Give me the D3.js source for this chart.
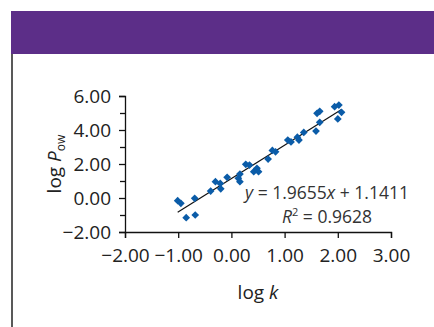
<!DOCTYPE html>
<html><head><meta charset="utf-8"></head>
<body style="margin:0;background:#fff">
<script src="https://d3js.org/d3.v7.min.js"></script>
<svg id="chart" width="434" height="327"></svg>
<script>
// data
const logK = [-1.01, -0.95, -0.85, -0.69, -0.68, -0.39, -0.30, -0.21, -0.20, -0.08,
              0.13, 0.16, 0.16, 0.27, 0.34, 0.42, 0.48, 0.51, 0.69, 0.77,
              0.83, 1.06, 1.12, 1.24, 1.27, 1.36, 1.59, 1.66, 1.61, 1.66,
              1.94, 2.02, 2.07, 2.00];
const logPow = [-0.16, -0.31, -1.16, -0.02, -1.00, 0.41, 0.96, 0.86, 0.54, 1.22,
                1.16, 1.41, 0.96, 1.98, 1.94, 1.55, 1.75, 1.55, 2.29, 2.80,
                2.72, 3.41, 3.30, 3.58, 3.41, 3.86, 3.94, 4.45, 4.98, 5.10,
                5.37, 5.47, 5.04, 4.65];
const xTicks = [-2, -1, 0, 1, 2, 3];
const yTicks = [-2, 0, 2, 4, 6];
const slope = 1.9655, intercept = 1.1411, r2 = "0.9628";

const font = "'Open Sans', sans-serif";
const svg = d3.select("#chart");
const fmt = d => d3.format(".2f")(d).replace("-", "\u2212");

// header band + left rule
svg.append("rect").attr("x", 11).attr("y", 11).attr("width", 423).attr("height", 43).attr("fill", "#5c2e88");
svg.append("line").attr("x1", 12).attr("x2", 12).attr("y1", 54).attr("y2", 327)
    .attr("stroke", "#222").attr("stroke-width", 1.5);

const x = d3.scaleLinear().domain([-2, 3]).range([125, 391]);
const y = d3.scaleLinear().domain([-2, 6]).range([232, 96]);

// y axis
svg.append("g").attr("transform", "translate(125,0)")
    .call(d3.axisLeft(y).tickValues(yTicks).tickSize(6).tickPadding(8).tickFormat(fmt));
svg.append("g").attr("transform", "translate(125,0)")
    .call(d3.axisLeft(y).tickValues([-1, 1, 3, 5]).tickSize(5).tickFormat(""))
    .select(".domain").remove();

// x axis
svg.append("g").attr("transform", "translate(0,232)")
    .call(d3.axisBottom(x).tickValues(xTicks).tickSize(6).tickPadding(11).tickFormat(fmt));

svg.selectAll(".domain").attr("stroke", "#111").attr("stroke-width", 1.3);
svg.selectAll(".tick line").attr("stroke", "#111").attr("stroke-width", 1.3);
svg.selectAll(".tick text").attr("font-family", font).attr("font-size", 19).attr("fill", "#222");

// trendline
const xr = d3.extent(logK);
svg.append("line")
    .attr("x1", x(xr[0])).attr("y1", y(slope * xr[0] + intercept))
    .attr("x2", x(xr[1])).attr("y2", y(slope * xr[1] + intercept))
    .attr("stroke", "#111").attr("stroke-width", 1.2);

// points
const pts = logK.map((d, i) => [d, logPow[i]]);
svg.append("g").selectAll("path").data(pts).join("path")
    .attr("d", d3.symbol(d3.symbolSquare, 30))
    .attr("transform", d => `translate(${x(d[0])},${y(d[1])}) rotate(45)`)
    .attr("fill", "#0b5ca8");

// equation
const eq = svg.append("text").attr("x", 327).attr("y", 199).attr("text-anchor", "middle")
    .attr("font-family", font).attr("font-size", 17.5).attr("fill", "#333");
eq.append("tspan").attr("font-style", "italic").text("y");
eq.append("tspan").text(" = 1.9655");
eq.append("tspan").attr("font-style", "italic").text("x");
eq.append("tspan").text(" + 1.1411");

const rt = svg.append("text").attr("x", 327).attr("y", 223).attr("text-anchor", "middle")
    .attr("font-family", font).attr("font-size", 17.5).attr("fill", "#333");
rt.append("tspan").attr("font-style", "italic").text("R");
rt.append("tspan").attr("font-size", 11).attr("dy", -7).text("2");
rt.append("tspan").attr("dy", 7).text(" = " + r2);

// axis titles
const xt = svg.append("text").attr("x", 258).attr("y", 299).attr("text-anchor", "middle")
    .attr("font-family", font).attr("font-size", 19).attr("fill", "#222");
xt.append("tspan").text("log ");
xt.append("tspan").attr("font-style", "italic").text("k");

const yt = svg.append("text").attr("transform", "translate(61,164) rotate(-90)").attr("text-anchor", "middle")
    .attr("font-family", font).attr("font-size", 19).attr("fill", "#222");
yt.append("tspan").text("log ");
yt.append("tspan").attr("font-style", "italic").text("P");
yt.append("tspan").attr("font-size", 12).attr("dy", 4).text("ow");
</script>
</body></html>
